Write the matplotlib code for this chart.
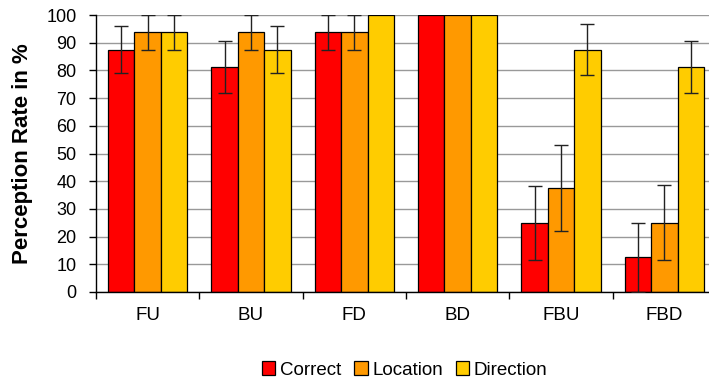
import matplotlib
matplotlib.use("Agg")
import matplotlib.pyplot as plt
import numpy as np

plt.rcParams['font.family'] = ['Liberation Sans', 'DejaVu Sans']

# data
groups = ['FU', 'BU', 'FD', 'BD', 'FBU', 'FBD']
series = ['Correct', 'Location', 'Direction']
correct = [87.5, 81.25, 93.75, 100, 25, 12.5]
location = [93.75, 93.75, 93.75, 100, 37.5, 25]
direction = [93.75, 87.5, 100, 100, 87.5, 81.25]
err_correct = [8.5, 9.3, 6.25, 0, 13.3, 12.5]
err_location = [6.25, 6.25, 6.25, 0, 15.6, 13.5]
err_direction = [6.25, 8.5, 0, 0, 9.2, 9.3]
colors = ['#ff0000', '#ff9900', '#ffcc00']

fig = plt.figure(figsize=(7.09, 3.83), dpi=100)
ax = fig.add_axes([96/709, 91/383, 620/709, 277/383])

x = np.arange(len(groups)) + 0.5
w = 0.255
vals = [correct, location, direction]
errs = [err_correct, err_location, err_direction]
for k in range(3):
    ax.bar(x + (k - 1) * w, vals[k], w, color=colors[k], edgecolor='black',
           linewidth=0.9, label=series[k], zorder=2)
    e = np.array(errs[k])
    m = e > 0
    ax.errorbar((x + (k - 1) * w)[m], np.array(vals[k])[m], yerr=e[m], fmt='none',
                ecolor='#222222', elinewidth=1, capsize=5, capthick=1, zorder=3)

ax.set_xlim(0, 6)
ax.set_ylim(0, 100)
ax.set_yticks(np.arange(0, 101, 10))
ax.tick_params(axis='y', labelsize=13, length=5, width=1, direction='out', pad=9)
ax.set_xticks(np.arange(0, 7))
ax.set_xticklabels([])
ax.set_xticks(x, minor=True)
ax.set_xticklabels(groups, minor=True, fontsize=13.5)
ax.tick_params(axis='x', which='major', length=5, width=1, direction='out')
ax.tick_params(axis='x', which='minor', length=0, pad=11)
ax.yaxis.grid(True, color='#999999', linewidth=1, zorder=0)
ax.set_axisbelow(True)
for s in ['top', 'right']:
    ax.spines[s].set_visible(False)
ax.spines['left'].set_linewidth(1)
ax.spines['bottom'].set_linewidth(1)

ax.set_ylabel('Perception Rate in %', fontsize=16, fontweight='bold')
ax.yaxis.set_label_coords(-63/620, 0.5)

fig.legend(loc='center', bbox_to_anchor=(405/709, 1 - 370/383), ncol=3, frameon=False,
           fontsize=13.5, handlelength=0.7, handleheight=0.7, handletextpad=0.25,
           columnspacing=0.7, borderaxespad=0)

fig.savefig('out.png', dpi=100)
